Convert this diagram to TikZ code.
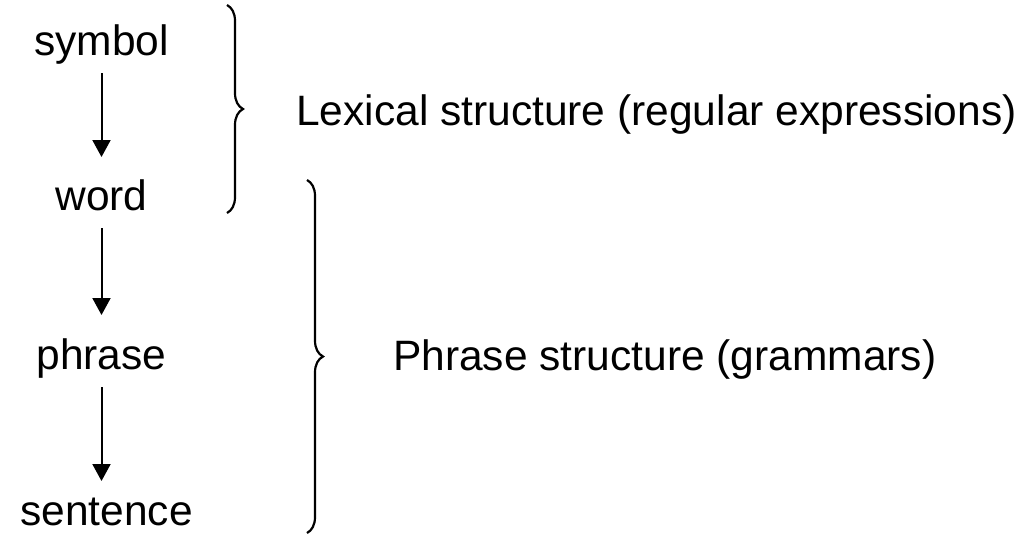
\documentclass[tikz,border=0pt]{standalone}
\usepackage{fontspec}
\setmainfont{Liberation Sans}
\usetikzlibrary{arrows.meta,decorations.pathreplacing,calc}
\begin{document}
\begin{tikzpicture}[x=1pt,y=-1pt,
  lbl/.style={inner sep=0pt,anchor=base,font=\fontsize{42.5}{50}\selectfont},
  desc/.style={inner sep=0pt,anchor=base west,font=\fontsize{42.5}{50}\selectfont},
  arr/.style={line width=2pt,-{Triangle[width=18pt,length=17pt]}},
  brc/.style={line width=2.2pt,decorate,decoration={brace,amplitude=16pt}}]
\useasboundingbox (0,0) rectangle (1021,536);
\node[lbl] (symbol) at (101.5,55) {symbol};
\node[lbl] (word) at (101.5,210) {word};
\node[lbl] (phrase) at (101.5,369) {phrase};
\node[lbl] (sentence) at (106.5,525) {sentence};
\node[desc] (lex) at (296,125) {Lexical structure (regular expressions)};
\node[desc] (phr) at (393,370) {Phrase structure (grammars)};
\draw[arr] ($(symbol.base)+(0,-18pt)$) -- ($(word.base)+(0,53pt)$);
\draw[arr] ($(word.base)+(0,-18pt)$) -- ($(word.base)+(0,-105pt)$);
\draw[arr] ($(phrase.base)+(0,-18pt)$) -- ($(phrase.base)+(0,-112pt)$);
\coordinate (b1t) at (227,5);
\coordinate (b1b) at (227,213);
\coordinate (b2t) at (307,180);
\coordinate (b2b) at (307,533);
\draw[brc] (b1t) -- (b1b);
\draw[brc] (b2t) -- (b2b);
\end{tikzpicture}
\end{document}
